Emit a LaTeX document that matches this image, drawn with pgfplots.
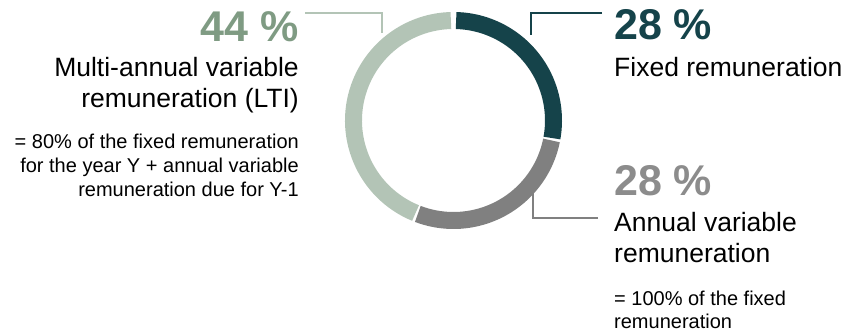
\documentclass[border=0pt]{standalone}
\usepackage{pgfplots}
\pgfplotsset{compat=1.18}
\usepackage{fontspec}
\setmainfont{Liberation Sans}
\definecolor{fixedc}{HTML}{15434A}
\definecolor{annualc}{HTML}{808080}
\definecolor{ltic}{HTML}{B3C4B6}
\definecolor{ltitxt}{HTML}{7F9B83}
\definecolor{annualtxt}{HTML}{8C8C8C}
\begin{document}
\begin{tikzpicture}
\begin{axis}[x=1pt,y=1pt,xmin=0,xmax=864,ymin=0,ymax=332,y dir=reverse,
  scale only axis,hide axis,clip=false]
\path (axis cs:0,0) (axis cs:864,332);
% donut: shares 28 (fixed), 28 (annual), 44 (LTI), clockwise from top
\def\cx{453.5}\def\cy{120.5}
\draw[fixedc,line width=17pt] (axis cs:\cx,\cy) ++({90-1.5}:100pt)
  arc[start angle={90-1.5},end angle={90-3.6*28+0.7},radius=100pt];
\draw[annualc,line width=17pt] (axis cs:\cx,\cy) ++({90-3.6*28-0.7}:100pt)
  arc[start angle={90-3.6*28-0.7},end angle={90-3.6*(28+28)+0.7},radius=100pt];
\draw[ltic,line width=17pt] (axis cs:\cx,\cy) ++({90-3.6*(28+28)-0.7}:100pt)
  arc[start angle={90-3.6*(28+28)-0.7},end angle={90-3.6*(28+28+44)+1.5},radius=100pt];
% leader lines
\draw[ltic,line width=1.3pt] (axis cs:305,13) -- (axis cs:382,13) -- (axis cs:382,33);
\draw[fixedc,line width=1.3pt] (axis cs:602,13) -- (axis cs:531,13) -- (axis cs:531,35);
\draw[annualc,line width=1.3pt] (axis cs:598,218) -- (axis cs:533,218) -- (axis cs:533,193);
% labels left
\node[anchor=base east,inner sep=0pt,text=ltitxt,font=\fontsize{43}{48}\selectfont\bfseries] at (axis cs:299,41) {44 \%};
\node[anchor=base east,inner sep=0pt,font=\fontsize{26.5}{31}\selectfont] at (axis cs:299,76) {Multi-annual variable};
\node[anchor=base east,inner sep=0pt,font=\fontsize{26.5}{31}\selectfont] at (axis cs:299,107) {remuneration (LTI)};
\node[anchor=base east,inner sep=0pt,font=\fontsize{20}{24}\selectfont] at (axis cs:299,148) {= 80\% of the fixed remuneration};
\node[anchor=base east,inner sep=0pt,font=\fontsize{20}{24}\selectfont] at (axis cs:299,172) {for the year Y + annual variable};
\node[anchor=base east,inner sep=0pt,font=\fontsize{20}{24}\selectfont] at (axis cs:299,196) {remuneration due for Y-1};
% labels right
\node[anchor=base west,inner sep=0pt,text=fixedc,font=\fontsize{43}{48}\selectfont\bfseries] at (axis cs:614,39) {28 \%};
\node[anchor=base west,inner sep=0pt,font=\fontsize{26.5}{31}\selectfont] at (axis cs:614,76) {Fixed remuneration};
\node[anchor=base west,inner sep=0pt,text=annualtxt,font=\fontsize{43}{48}\selectfont\bfseries] at (axis cs:614,195) {28 \%};
\node[anchor=base west,inner sep=0pt,font=\fontsize{26.5}{31}\selectfont] at (axis cs:614,231) {Annual variable};
\node[anchor=base west,inner sep=0pt,font=\fontsize{26.5}{31}\selectfont] at (axis cs:614,262) {remuneration};
\node[anchor=base west,inner sep=0pt,font=\fontsize{20}{24}\selectfont] at (axis cs:614,305) {= 100\% of the fixed};
\node[anchor=base west,inner sep=0pt,font=\fontsize{20}{24}\selectfont] at (axis cs:614,328) {remuneration};
\end{axis}
\end{tikzpicture}
\end{document}
